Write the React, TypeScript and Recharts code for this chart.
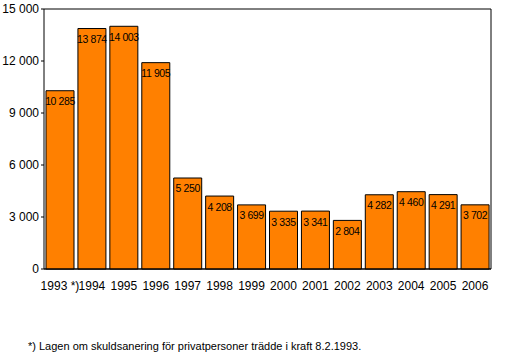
import { BarChart, Bar, XAxis, YAxis, CartesianGrid, LabelList } from 'recharts';

const years = ['1993 *)', '1994', '1995', '1996', '1997', '1998', '1999', '2000', '2001', '2002', '2003', '2004', '2005', '2006'];
const cases = [10285, 13874, 14003, 11905, 5250, 4208, 3699, 3335, 3341, 2804, 4282, 4460, 4291, 3702];
const yTicks = [0, 3000, 6000, 9000, 12000, 15000];
const footnote = '*) Lagen om skuldsanering för privatpersoner trädde i kraft 8.2.1993.';

// thousands separated by a non-breaking space so Recharts does not wrap them
const fmt = (v: number) => String(v).replace(/\B(?=(\d{3})+(?!\d))/g, '\u00A0');

const font = '"Liberation Sans", Arial, sans-serif';

export default function App() {
  const data = years.map((y, i) => ({ year: y, value: cases[i] }));

  return (
    <div style={{ position: 'absolute', left: 0, top: 0, width: 518, height: 354, background: '#fff', fontFamily: font }}>
      <BarChart
        width={518}
        height={354}
        data={data}
        margin={{ top: 9, right: 26, left: 0, bottom: 60 }}
        barSize={28}
      >
        <CartesianGrid horizontal vertical={false} stroke="#000" strokeWidth={1} />
        <XAxis
          dataKey="year"
          interval={0}
          tickLine={false}
          axisLine={{ stroke: '#000' }}
          tick={{ fill: '#000', fontSize: 12, fontFamily: font }}
          tickMargin={6}
          height={25}
        />
        <YAxis
          yAxisId="left"
          domain={[0, 15000]}
          ticks={yTicks}
          interval={0}
          width={44}
          tickFormatter={fmt}
          tickSize={3}
          tickLine={{ stroke: '#000' }}
          axisLine={{ stroke: '#000' }}
          tick={{ fill: '#000', fontSize: 12, fontFamily: font }}
        />
        <YAxis
          yAxisId="right"
          orientation="right"
          domain={[0, 15000]}
          ticks={yTicks}
          tick={false}
          tickLine={false}
          width={1}
          axisLine={{ stroke: '#000' }}
        />
        <Bar yAxisId="left" dataKey="value" fill="#FF8000" stroke="#000" strokeWidth={1} isAnimationActive={false}>
          <LabelList
            dataKey="value"
            position="insideTop"
            offset={7}
            formatter={(v: number) => fmt(v)}
            style={{ fill: '#000', fontSize: 10.5, fontFamily: font, letterSpacing: -0.4 }}
          />
        </Bar>
      </BarChart>
      <div style={{ position: 'absolute', left: 28, top: 340, fontSize: 11, color: '#000', whiteSpace: 'nowrap' }}>
        {footnote}
      </div>
    </div>
  );
}
